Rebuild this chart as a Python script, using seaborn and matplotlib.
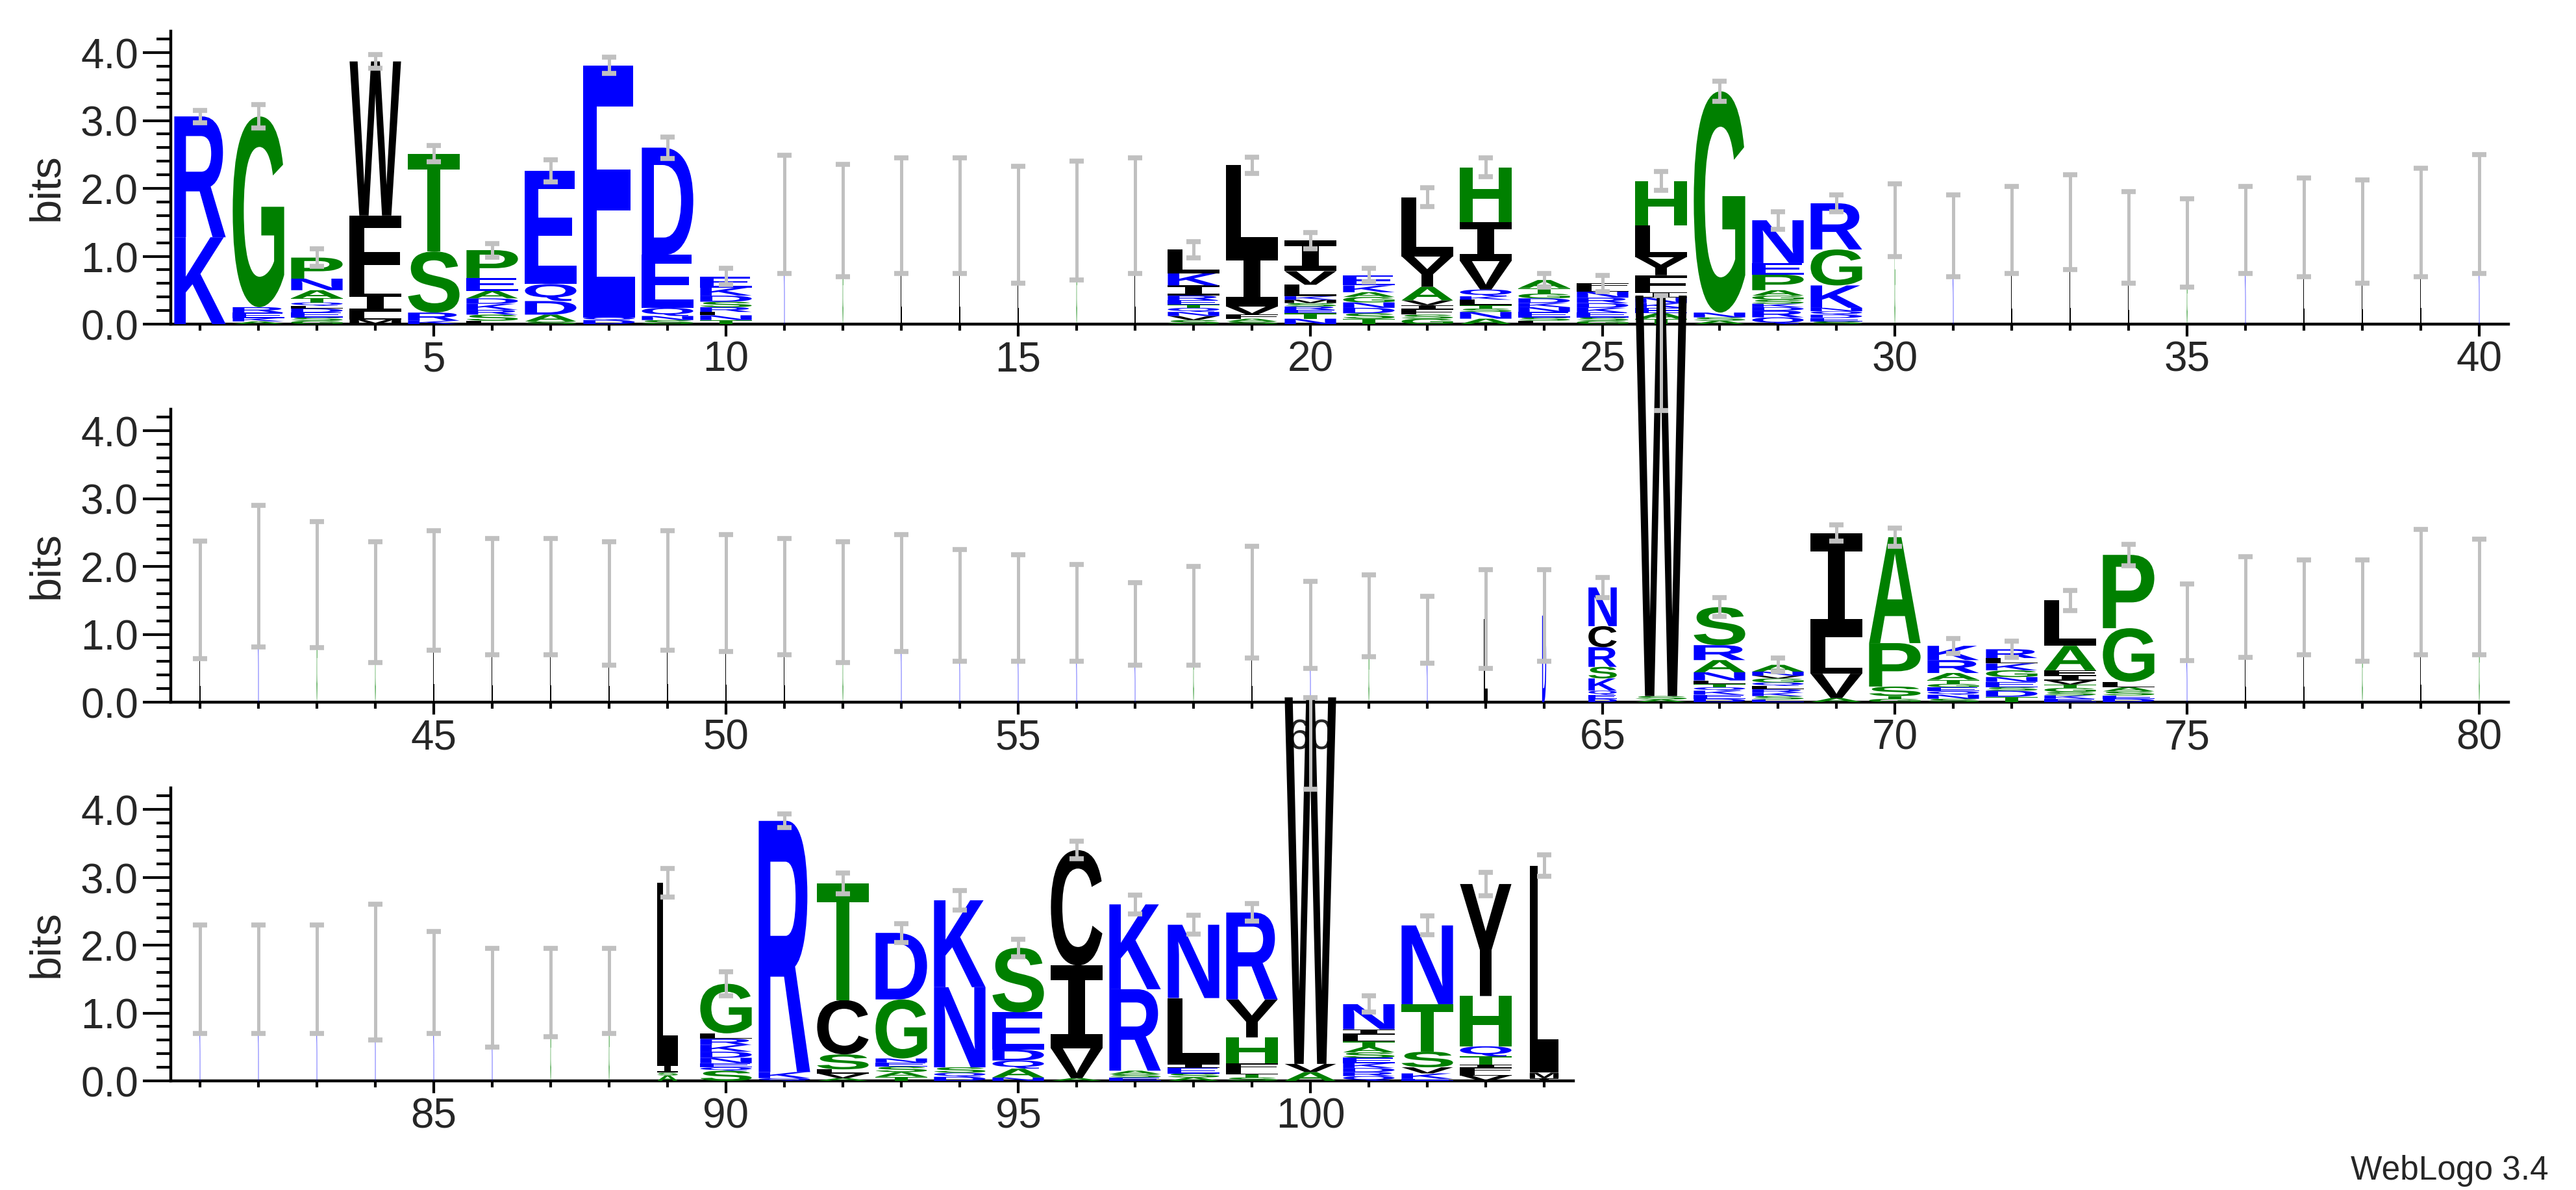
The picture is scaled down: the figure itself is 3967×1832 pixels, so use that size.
import numpy as np
import matplotlib
matplotlib.use("Agg")
import matplotlib.pyplot as plt
import seaborn as sns
from matplotlib.textpath import TextPath
from matplotlib.patches import PathPatch
from matplotlib.font_manager import FontProperties
from matplotlib.transforms import Affine2D
from matplotlib.ticker import MultipleLocator, FixedLocator

# ---------------- data ----------------
# letter stacks (bottom -> top), heights in bits
stacks = {
    1: "K:1.28 R:1.78",
    2: "A:0.04 K:0.05 E:0.08 R:0.08 G:2.81",
    3: "G:0.05 S:0.05 E:0.07 D:0.06 L:0.04 Q:0.05 T:0.06 A:0.12 N:0.17 P:0.31",
    4: "M:0.07 L:0.11 I:0.27 F:1.15 W:2.27",
    5: "K:0.05 R:0.12 S:0.9 T:1.44",
    6: "L:0.05 S:0.09 R:0.07 K:0.09 D:0.08 A:0.11 E:0.19 P:0.41",
    7: "S:0.04 A:0.1 D:0.2 Q:0.25 E:1.67",
    8: "D:0.06 Q:0.04 E:3.71",
    9: "S:0.06 N:0.06 Q:0.12 E:0.78 D:1.58",
    10: "T:0.06 N:0.07 L:0.05 R:0.07 S:0.08 D:0.09 K:0.12 E:0.16",
    18: "S:0.06 V:0.06 N:0.06 Q:0.06 T:0.05 E:0.06 R:0.07 I:0.15 K:0.18 L:0.35",
    19: "S:0.04 A:0.04 F:0.06 V:0.12 I:0.82 L:1.26",
    20: "N:0.08 T:0.08 E:0.05 R:0.05 S:0.05 M:0.05 K:0.05 L:0.17 V:0.2 I:0.45",
    21: "T:0.08 S:0.08 D:0.08 N:0.08 G:0.08 A:0.07 K:0.1 E:0.15",
    22: "G:0.08 S:0.06 F:0.08 I:0.06 V:0.07 A:0.2 Y:0.45 L:0.87",
    23: "A:0.08 N:0.1 S:0.05 T:0.05 L:0.08 K:0.05 Q:0.1 V:0.42 I:0.57 H:0.81",
    24: "L:0.05 S:0.05 E:0.08 N:0.07 K:0.06 D:0.07 G:0.07 T:0.08 A:0.12",
    25: "G:0.05 S:0.05 E:0.07 K:0.07 D:0.07 R:0.08 N:0.09 L:0.07 F:0.05",
    26: "T:0.08 A:0.08 E:0.08 K:0.07 N:0.08 I:0.08 F:0.25 Y:0.27 L:0.46 H:0.66",
    27: "A:0.05 S:0.05 N:0.07 G:3.26",
    28: "Q:0.1 R:0.1 D:0.05 K:0.05 S:0.06 G:0.06 A:0.08 P:0.23 E:0.17 N:0.63",
    29: "S:0.04 E:0.05 D:0.05 Q:0.05 N:0.05 K:0.33 G:0.53 R:0.68",
    65: "D:0.05 E:0.06 Q:0.06 K:0.18 S:0.17 R:0.29 C:0.31 N:0.57",
    66: "A:0.04 S:0.05 W:5.9",
    67: "D:0.05 E:0.06 K:0.06 Q:0.05 T:0.05 L:0.05 N:0.12 A:0.18 R:0.22 S:0.56",
    68: "E:0.04 S:0.05 K:0.05 R:0.05 L:0.05 Q:0.05 G:0.06 V:0.04 N:0.06 A:0.1",
    69: "A:0.06 V:0.36 L:0.54 I:1.53",
    70: "G:0.05 T:0.04 S:0.14 P:0.64 A:1.56",
    71: "S:0.05 N:0.06 Q:0.05 E:0.06 G:0.05 T:0.06 A:0.1 R:0.19 K:0.21",
    72: "T:0.08 D:0.09 S:0.05 E:0.08 N:0.07 G:0.1 K:0.1 L:0.08 R:0.13",
    73: "E:0.05 K:0.05 S:0.05 G:0.06 T:0.05 V:0.06 I:0.08 F:0.07 A:0.36 L:0.67",
    74: "D:0.05 E:0.05 S:0.06 A:0.06 L:0.08 G:0.79 P:1.08",
    89: "A:0.08 S:0.04 I:0.12 L:2.68",
    90: "S:0.15 Q:0.05 E:0.06 N:0.08 D:0.09 K:0.1 R:0.09 L:0.08 G:0.73",
    91: "Q:0.04 K:0.09 R:3.7",
    92: "A:0.04 V:0.07 L:0.06 S:0.22 C:0.8 T:1.72",
    93: "T:0.06 A:0.07 S:0.08 E:0.06 N:0.06 G:0.87 D:0.98",
    94: "D:0.06 Q:0.06 S:0.08 N:1.18 K:1.28",
    95: "N:0.05 A:0.13 Q:0.12 D:0.16 E:0.55 S:0.95",
    96: "A:0.04 V:0.44 I:1.22 C:1.7",
    97: "E:0.05 S:0.05 A:0.05 R:1.2 K:1.25",
    98: "A:0.05 S:0.06 E:0.08 I:0.06 L:0.97 N:1.08",
    99: "S:0.05 T:0.05 L:0.06 F:0.1 H:0.38 Y:0.56 R:1.28",
    100: "A:0.13 V:0.12 W:5.4",
    101: "Q:0.07 R:0.06 D:0.06 K:0.07 E:0.08 S:0.08 A:0.08 T:0.08 L:0.1 I:0.08 N:0.37",
    102: "E:0.03 K:0.08 V:0.09 S:0.23 T:0.7 N:1.16",
    103: "V:0.08 L:0.05 F:0.06 I:0.05 T:0.12 Q:0.15 H:0.74 Y:1.65",
    104: "I:0.04 M:0.08 L:3.05",
}
# error-bar half widths for stacked columns
stack_err = {1: 0.09, 2: 0.17, 3: 0.13, 4: 0.1, 5: 0.12, 6: 0.1, 7: 0.16, 8: 0.12,
             9: 0.16, 10: 0.12, 18: 0.12, 19: 0.12, 20: 0.12, 21: 0.1, 22: 0.14,
             23: 0.14, 24: 0.1, 25: 0.12, 26: 0.14, 27: 0.15, 28: 0.13, 29: 0.12,
             65: 0.15, 66: 0.0, 67: 0.14, 68: 0.1, 69: 0.12, 70: 0.13, 71: 0.11,
             72: 0.12, 73: 0.15, 74: 0.16, 89: 0.21, 90: 0.18, 91: 0.1, 92: 0.15,
             93: 0.14, 94: 0.14, 95: 0.13, 96: 0.13, 97: 0.14, 98: 0.14, 99: 0.13,
             100: 0.0, 101: 0.12, 102: 0.14, 103: 0.17, 104: 0.16}
# gap-dominated columns: (position, error-bar top, error-bar bottom, main letter)
gap_cols = [
    (11, 2.49, 0.75, "K"), (12, 2.35, 0.70, "G"), (13, 2.45, 0.75, "L"), (14, 2.45, 0.75, "L"),
    (15, 2.33, 0.60, "L"), (16, 2.40, 0.65, "G"), (17, 2.45, 0.75, "L"),
    (30, 2.07, 1.00, "G"), (31, 1.90, 0.70, "K"), (32, 2.03, 0.75, "L"), (33, 2.20, 0.80, "L"),
    (34, 1.95, 0.60, "L"), (35, 1.85, 0.55, "G"), (36, 2.03, 0.75, "K"), (37, 2.15, 0.70, "L"),
    (38, 2.12, 0.60, "L"), (39, 2.30, 0.70, "L"), (40, 2.50, 0.75, "K"),
    (41, 2.37, 0.64, "L"), (42, 2.90, 0.81, "K"), (43, 2.66, 0.80, "G"), (44, 2.36, 0.58, "G"),
    (45, 2.53, 0.77, "L"), (46, 2.41, 0.70, "L"), (47, 2.41, 0.70, "L"), (48, 2.36, 0.55, "L"),
    (49, 2.53, 0.77, "L"), (50, 2.47, 0.75, "L"), (51, 2.41, 0.70, "L"), (52, 2.36, 0.58, "G"),
    (53, 2.47, 0.75, "K"), (54, 2.25, 0.60, "K"), (55, 2.17, 0.60, "K"), (56, 2.03, 0.60, "K"),
    (57, 1.76, 0.55, "K"), (58, 2.00, 0.55, "G"), (59, 2.30, 0.65, "L"), (60, 1.78, 0.50, "K"),
    (61, 1.88, 0.67, "G"), (62, 1.56, 0.57, "K"), (63, 1.95, 0.50, "L"), (64, 1.95, 0.60, "D"),
    (75, 1.74, 0.61, "K"), (76, 2.14, 0.66, "L"), (77, 2.10, 0.70, "L"), (78, 2.10, 0.60, "G"),
    (79, 2.55, 0.70, "L"), (80, 2.40, 0.70, "G"),
    (81, 2.30, 0.70, "K"), (82, 2.30, 0.70, "K"), (83, 2.30, 0.70, "K"), (84, 2.60, 0.60, "K"),
    (85, 2.20, 0.70, "K"), (86, 1.95, 0.50, "K"), (87, 1.95, 0.65, "G"), (88, 1.95, 0.70, "G"),
]
# relative column widths (fraction of non-gap symbols); default 1
col_width = {65: 0.55, 89: 0.4, 104: 0.56, 63: 0.08, 64: 0.08}
row_ranges = [(1, 40), (41, 80), (81, 104)]
y_ticks = [0.0, 1.0, 2.0, 3.0, 4.0]

# ---------------- style ----------------
sns.set_theme(style="ticks")
plt.rcParams["font.family"] = ["Liberation Sans", "DejaVu Sans"]

BLUE, GREEN, BLACK, GRAY = "#0000ff", "#008000", "#000000", "#c0c0c0"
color_of = {}
for c in "RKDENQ":
    color_of[c] = BLUE
for c in "GSTPAH":
    color_of[c] = GREEN
for c in "WFLIYVCM":
    color_of[c] = BLACK

fp = FontProperties(family="Liberation Sans", weight="bold")
fp_i = FontProperties(family="DejaVu Sans Mono", weight="bold")
_cache = {}


def glyph(ch):
    if ch not in _cache:
        tp = TextPath((0, 0), ch, size=1, prop=fp_i if ch == "I" else fp)
        _cache[ch] = (tp, tp.get_extents())
    return _cache[ch]


def draw_letter(ax, ch, x, y0, h, w):
    tp, ext = glyph(ch)
    t = (Affine2D().translate(-ext.x0, -ext.y0)
         .scale(w / ext.width, h / ext.height).translate(x - w / 2, y0))
    ax.add_patch(PathPatch(t.transform_path(tp), fc=color_of[ch], ec="none",
                           lw=0, clip_on=False, zorder=3))


# build column table
columns = {}
for p, txt in stacks.items():
    items = [(s.split(":")[0], float(s.split(":")[1])) for s in txt.split()]
    columns[p] = dict(items=items, err=stack_err[p], width=col_width.get(p, 1.0))
for p, hi, lo, ch in gap_cols:
    top = (hi + lo) / 2
    columns[p] = dict(items=[(ch, top)], err=(hi - lo) / 2, width=col_width.get(p, 0.015))

W, H = 3967, 1833
fig = plt.figure(figsize=(W / 100, H / 100), dpi=100)
fig.patch.set_facecolor("white")
unit = 90 / W
ymax = 4.32
ax_h = ymax * 104.5 / H
bottoms = [1 - 500 / H, 1 - 1082 / H, 1 - 1665 / H]

for (start, end), b in zip(row_ranges, bottoms):
    n = end - start + 1
    ax = fig.add_axes([263 / W, b, n * unit, ax_h])
    ax.patch.set_visible(False)
    ax.set_xlim(start - 0.5, end + 0.5)
    ax.set_ylim(0, ymax)
    for p in range(start, end + 1):
        col = columns[p]
        y = 0.0
        lw_frac = 0.88 * col["width"]
        for ch, h in col["items"]:
            draw_letter(ax, ch, p, y, h, lw_frac)
            y += h
        top = y
        if top > ymax:
            lo, hi = ymax - 0.02, top
        else:
            lo, hi = top - col["err"], top + col["err"]
        ax.vlines(p, lo, hi, color=GRAY, lw=3.6, zorder=4, clip_on=False)
        ax.hlines([lo, hi], p - 0.12, p + 0.12, color=GRAY, lw=5.5, zorder=4, clip_on=False)
    sns.despine(ax=ax, top=True, right=True)
    for s in ("left", "bottom"):
        ax.spines[s].set_linewidth(3.2)
        ax.spines[s].set_color("black")
    ax.yaxis.set_major_locator(FixedLocator(y_ticks))
    ax.yaxis.set_minor_locator(MultipleLocator(0.2))
    ax.set_yticklabels([f"{v:.1f}" for v in y_ticks])
    ax.xaxis.set_minor_locator(MultipleLocator(1))
    first5 = int(np.ceil(start / 5) * 5)
    majors = list(range(first5, end + 1, 5))
    ax.xaxis.set_major_locator(FixedLocator(majors))
    ax.set_xticklabels([str(m) for m in majors])
    ax.tick_params(axis="y", which="major", length=31, width=3, labelsize=46, pad=5, direction="out", color="black")
    ax.tick_params(axis="y", which="minor", length=16, width=3, direction="out", color="black")
    ax.tick_params(axis="x", which="major", length=14, width=3, labelsize=46, pad=4, direction="out", color="black")
    ax.tick_params(axis="x", which="minor", length=7, width=3, direction="out", color="black")
    ax.set_ylabel("bits", fontsize=48)
    ax.yaxis.set_label_coords(-160 / (n * 90), 0.47)
    ax.grid(False)

fig.text(3925 / W, 6 / H, "WebLogo 3.4", ha="right", va="bottom", fontsize=37)
fig.savefig("out.png", dpi=100, facecolor="white")
